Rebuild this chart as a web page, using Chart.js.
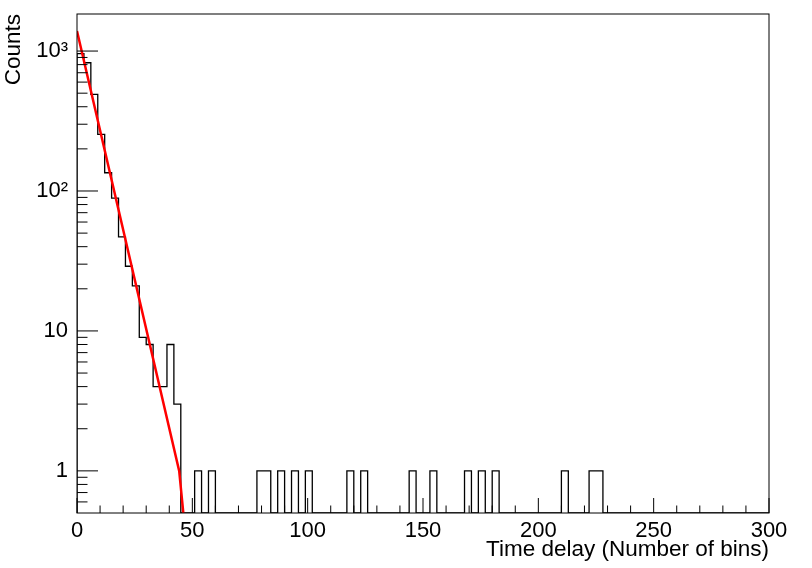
<!DOCTYPE html>
<html>
<head>
<meta charset="utf-8">
<script src="https://cdn.jsdelivr.net/npm/chart.js@4.4.1/dist/chart.umd.min.js"></script>
<style>
  html, body { margin: 0; padding: 0; background: #fff; }
  canvas { display: block; }
</style>
</head>
<body>
<canvas id="myChart" width="812" height="568"></canvas>
<script>
// histogram: 100 bins of width 3 between 0 and 300
var binWidth = 3;
var xMin = 0;
var xMax = 300;
var counts = [
  960, 825, 491, 254, 135, 89, 47, 29, 21, 9, 8, 4, 4, 8, 3, 0, 0, 1, 0, 1,
  0, 0, 0, 0, 0, 0, 1, 1, 0, 1, 0, 1, 0, 1, 0, 0, 0, 0, 0, 1,
  0, 1, 0, 0, 0, 0, 0, 0, 1, 0, 0, 1, 0, 0, 0, 0, 1, 0, 1, 0,
  1, 0, 0, 0, 0, 0, 0, 0, 0, 0, 1, 0, 0, 0, 1, 1, 0, 0, 0, 0,
  0, 0, 0, 0, 0, 0, 0, 0, 0, 0, 0, 0, 0, 0, 0, 0, 0, 0, 0, 0
];

// exponential fit
var fitX = [0, 44.3, 46.1];
var fitY = [1390, 1.0, 0.5];

// axes
var yMin = 0.5;
var yMax = 1840;
var yTicks = [1, 10, 100, 1000];
var yTickLabels = ['1', '10', '10\u00b2', '10\u00b3'];
var xTicks = [0, 50, 100, 150, 200, 250, 300];

var ctx = document.getElementById("myChart").getContext('2d');
var tickFont = { family: "'Liberation Sans', Arial, sans-serif", size: 22 };
var titleFont = { family: "'Liberation Sans', Arial, sans-serif", size: 22.5 };

// outline of the histogram, empty bins sit on the bottom of the frame
var histPoints = [{ x: xMin, y: yMin }];
for (var i = 0; i < counts.length; i++) {
    var v = counts[i] > 0 ? counts[i] : yMin;
    histPoints.push({ x: xMin + i * binWidth, y: v });
    histPoints.push({ x: xMin + (i + 1) * binWidth, y: v });
}
histPoints.push({ x: xMax, y: yMin });

var fitPoints = [];
for (var j = 0; j < fitX.length; j++) {
    fitPoints.push({ x: fitX[j], y: fitY[j] });
}

// ROOT style frame with ticks pointing inwards
var rootFrame = {
    id: 'rootFrame',
    afterDatasetsDraw: function(chart) {
        var c = chart.ctx;
        var a = chart.chartArea;
        var xs = chart.scales.x;
        var ys = chart.scales.y;
        c.save();
        c.strokeStyle = '#000';
        c.lineWidth = 1;
        c.strokeRect(a.left, a.top, a.right - a.left, a.bottom - a.top);
        c.beginPath();
        for (var e = -1; e <= 3; e++) {
            for (var d = 1; d <= 9; d++) {
                var val = d * Math.pow(10, e);
                if (val <= yMin * 1.001 || val > yMax) continue;
                var py = ys.getPixelForValue(val);
                var len = d === 1 ? 21 : 10.5;
                c.moveTo(a.left, py);
                c.lineTo(a.left + len, py);
            }
        }
        for (var t = xMin; t <= xMax; t += 10) {
            var px = xs.getPixelForValue(t);
            var l = t % 50 === 0 ? 15 : 7.5;
            c.moveTo(px, a.bottom);
            c.lineTo(px, a.bottom - l);
        }
        c.stroke();
        c.restore();
    }
};

var myChart = new Chart(ctx, {
    type: 'line',
    data: {
        datasets: [{
            label: 'fit',
            data: fitPoints,
            borderColor: '#ff0000',
            borderWidth: 2.5,
            pointRadius: 0,
            fill: false,
            tension: 0,
            order: 0
        }, {
            label: 'histogram',
            data: histPoints,
            borderColor: '#000000',
            borderWidth: 1.3,
            pointRadius: 0,
            fill: false,
            tension: 0,
            order: 1
        }]
    },
    options: {
        responsive: false,
        animation: false,
        layout: {
            padding: { top: 14, right: 43, left: 0, bottom: 0 }
        },
        plugins: {
            legend: { display: false },
            tooltip: { enabled: false }
        },
        scales: {
            x: {
                type: 'linear',
                min: xMin,
                max: xMax,
                afterFit: function(s) {
                    s.height = 55;
                    s.paddingLeft = 0;
                    s.paddingRight = 0;
                },
                afterBuildTicks: function(s) {
                    s.ticks = xTicks.map(function(v) { return { value: v }; });
                },
                grid: { display: false, drawTicks: false },
                border: { display: false },
                ticks: { color: '#000', font: tickFont, padding: 5, maxRotation: 0, autoSkip: false },
                title: {
                    display: true,
                    text: 'Time delay (Number of bins)',
                    align: 'end',
                    color: '#000',
                    font: titleFont,
                    padding: { top: 0, bottom: 5 }
                }
            },
            y: {
                type: 'logarithmic',
                min: yMin,
                max: yMax,
                afterFit: function(s) {
                    s.width = 77;
                    s.paddingTop = 0;
                    s.paddingBottom = 0;
                },
                afterBuildTicks: function(s) {
                    s.min = yMin;
                    s.max = yMax;
                    s.ticks = yTicks.map(function(v) { return { value: v }; });
                },
                grid: { display: false, drawTicks: false },
                border: { display: false },
                ticks: {
                    color: '#000',
                    font: tickFont,
                    padding: 9,
                    autoSkip: false,
                    callback: function(v) {
                        var k = yTicks.indexOf(v);
                        return k >= 0 ? yTickLabels[k] : '';
                    }
                },
                title: {
                    display: true,
                    text: 'Counts',
                    align: 'end',
                    color: '#000',
                    font: titleFont,
                    padding: { top: 0, bottom: 0 }
                }
            }
        }
    },
    plugins: [rootFrame]
});
</script>
</body>
</html>
